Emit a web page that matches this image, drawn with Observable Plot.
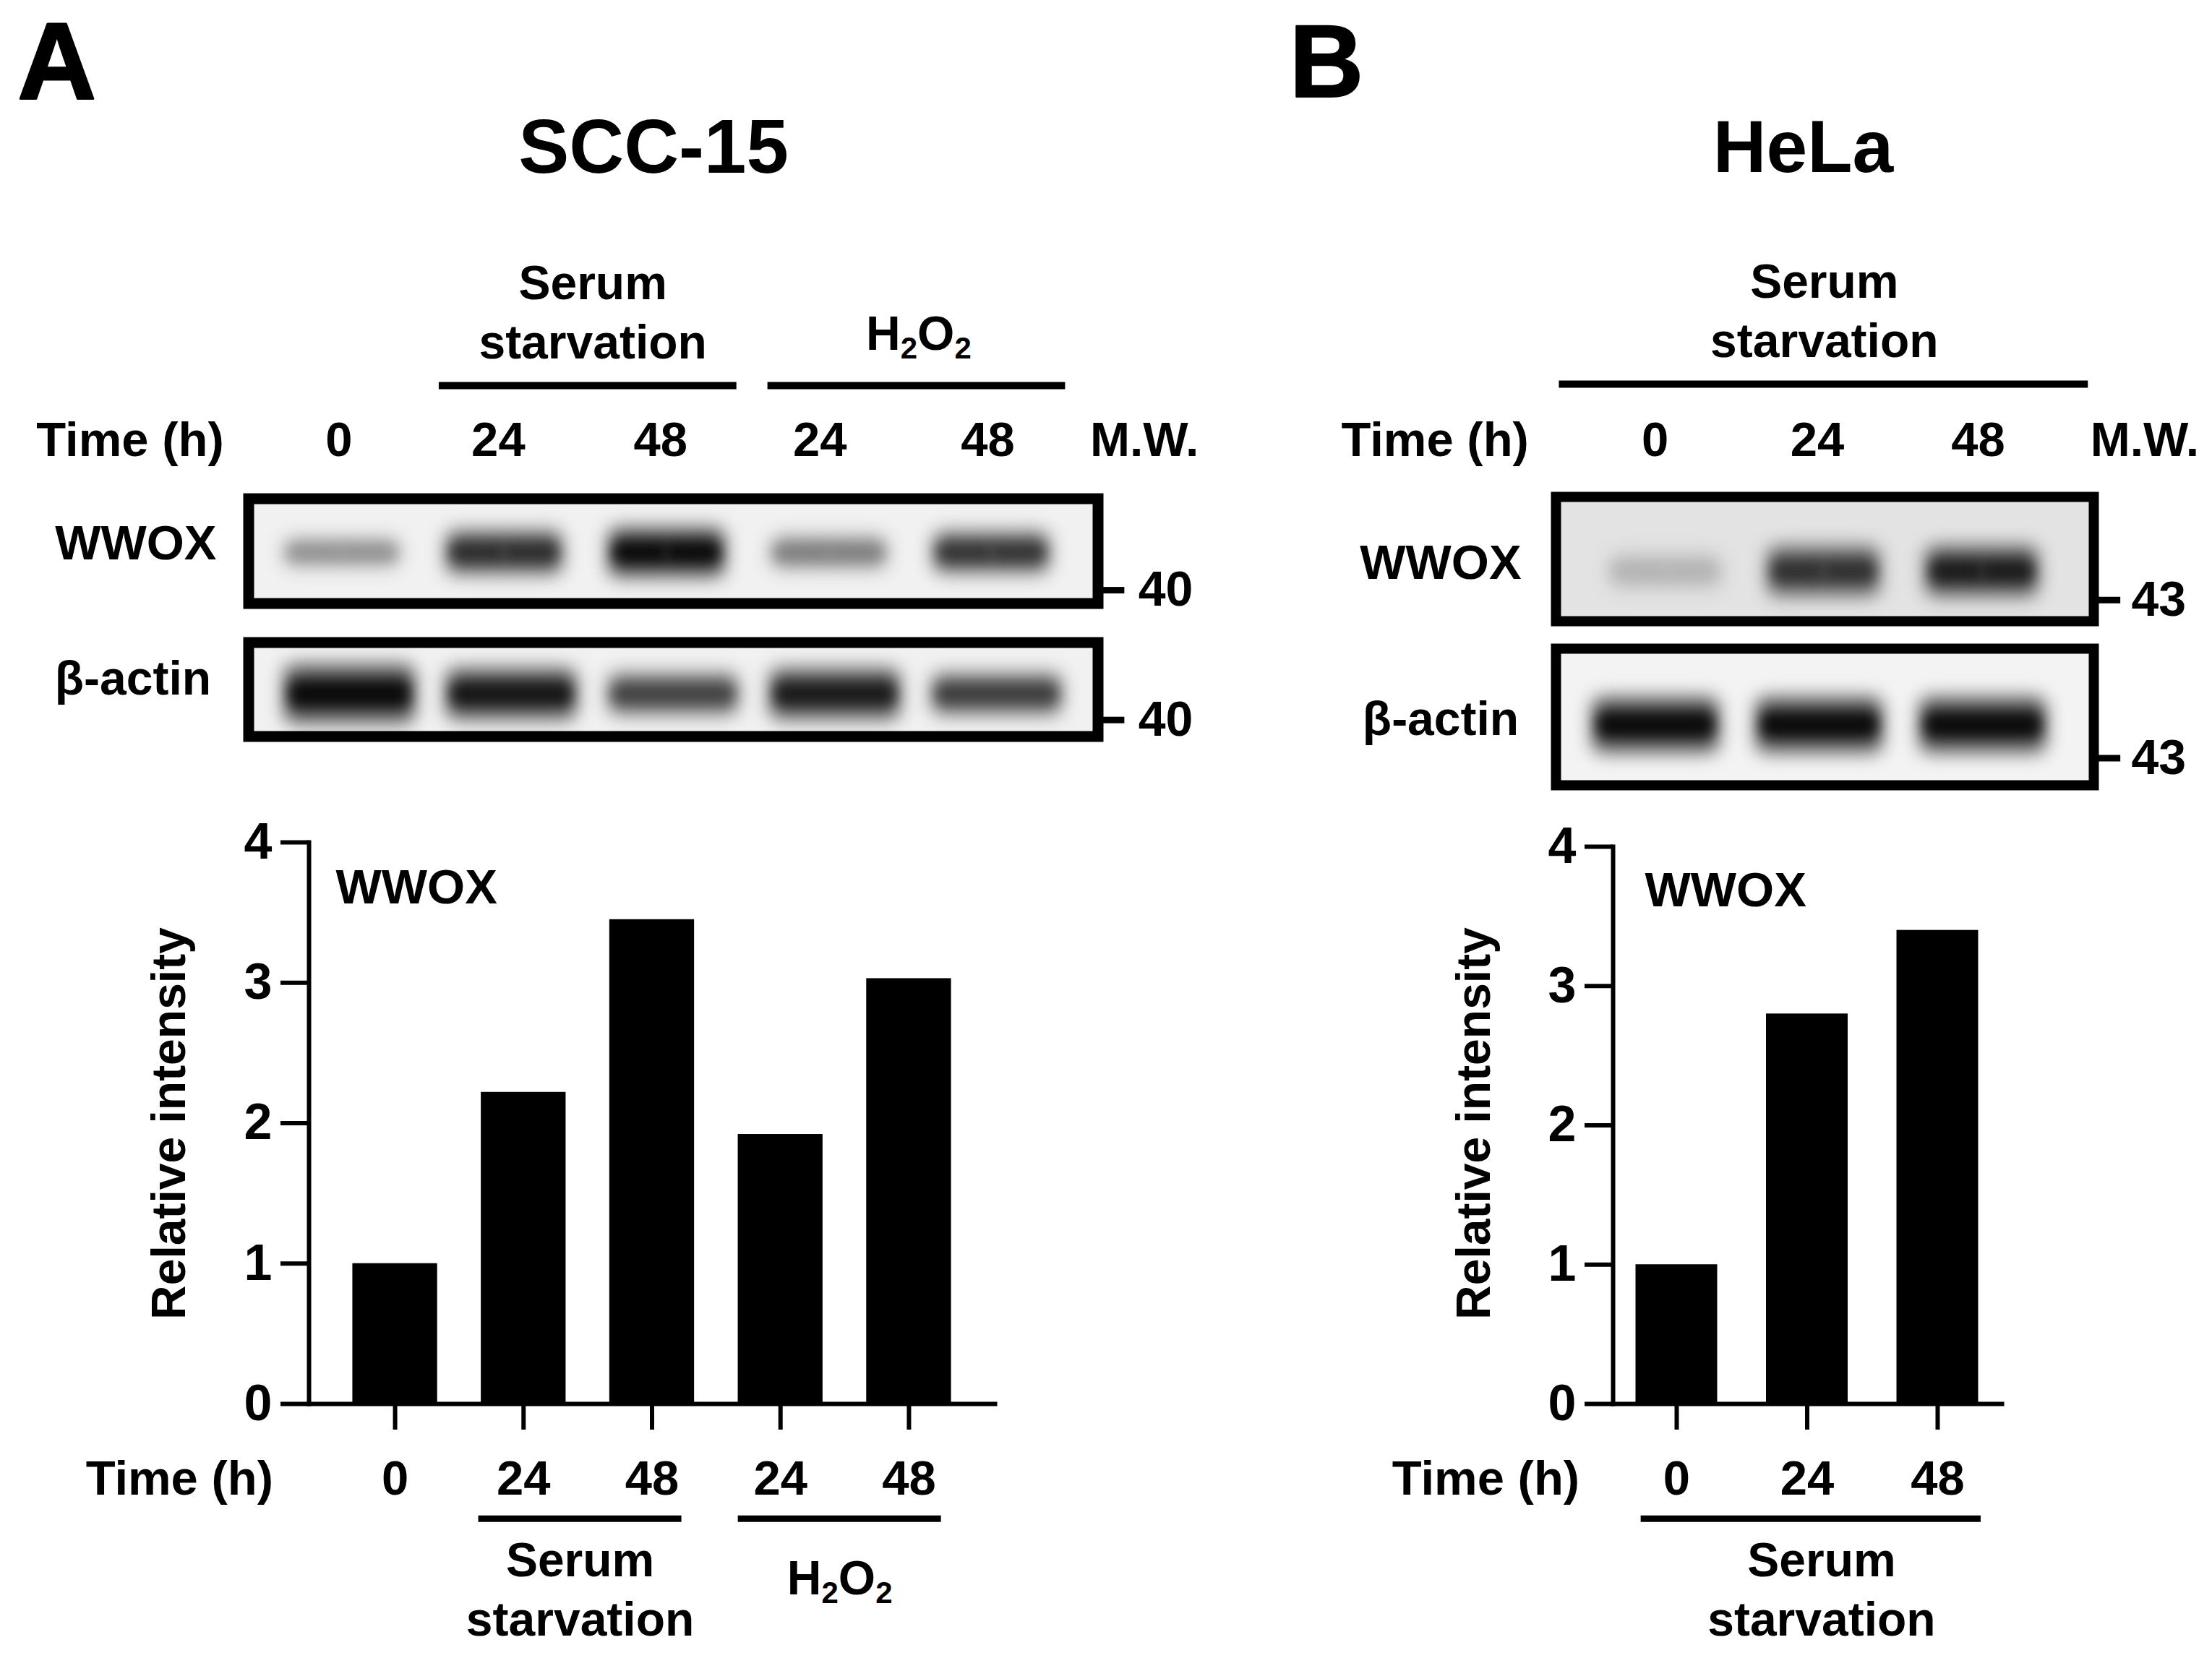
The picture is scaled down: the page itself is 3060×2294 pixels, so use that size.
<!DOCTYPE html>
<html>
<head>
<meta charset="utf-8">
<script src="https://cdn.jsdelivr.net/npm/d3@7"></script>
<script src="https://cdn.jsdelivr.net/npm/@observablehq/plot@0.6"></script>
<style>
html,body{margin:0;padding:0;background:#fff;}
#fig{position:relative;width:3060px;height:2294px;overflow:hidden;background:#fff;}
svg{max-width:none !important;}
</style>
</head>
<body>
<div id="fig"></div>
<script>
// ---------- data ----------
const lanesA = ["Control 0", "Serum 24", "Serum 48", "H2O2 24", "H2O2 48"];
const timesA = ["0", "24", "48", "24", "48"];
const intensityA = [1.0, 2.22, 3.45, 1.92, 3.03];

const lanesB = ["Control 0", "Serum 24", "Serum 48"];
const timesB = ["0", "24", "48"];
const intensityB = [1.0, 2.8, 3.4];

const yTicks = [0, 1, 2, 3, 4];

// blot band darkness (0-1) and half thickness (fraction of panel half-height)
const wwoxDarkA = [0.42, 0.85, 1.0, 0.5, 0.82];
const wwoxSpreadA = [0.24, 0.36, 0.4, 0.27, 0.34];
const actinDarkA = [1.0, 0.95, 0.76, 0.93, 0.78];
const actinSpreadA = [0.52, 0.46, 0.38, 0.46, 0.38];
const wwoxDarkB = [0.22, 0.82, 0.92];
const wwoxSpreadB = [0.24, 0.34, 0.34];
const actinDarkB = [1.0, 1.0, 1.0];
const actinSpreadB = [0.34, 0.34, 0.34];

// ---------- rendering ----------
const fig = document.getElementById("fig");
const FONT = "'Liberation Sans', Arial, sans-serif";
const place = (left, top) => ({position:"absolute", left:left+"px", top:top+"px", background:"transparent",
  fontFamily:FONT, fontWeight:"bold", overflow:"visible"});

function barChart({lanes, times, values, left, width, marginLeft, marginRight, marginTop, marginBottom, top, height, pInner, pOuter, insetRight}) {
  const data = lanes.map((lane, i) => ({lane, value: values[i]}));
  const label = new Map(lanes.map((l, i) => [l, times[i]]));
  return Plot.plot({
    width, height, marginLeft, marginRight, marginTop, marginBottom,
    style: place(left, top),
    x: {domain: lanes, paddingInner: pInner, paddingOuter: pOuter, insetRight, round: false, axis: null},
    y: {domain: [0, 4], axis: null},
    marks: [
      Plot.barY(data, {x: "lane", y: "value", fill: "#000"}),
      Plot.frame({anchor: "left", stroke: "#000", strokeWidth: 6}),
      Plot.frame({anchor: "bottom", stroke: "#000", strokeWidth: 6}),
      Plot.axisY({ticks: yTicks, tickFormat: "d", tickSize: 39, tickPadding: 12, strokeWidth: 6, fontSize: 70, label: null, fontWeight: "bold"}),
      Plot.axisX({tickSize: 36, tickPadding: 42, strokeWidth: 6, fontSize: 67, label: null, fontWeight: "bold",
        tickFormat: d => label.get(d)})
    ]
  });
}

function blot({lanes, dark, spread, left, top, width, height, stroke, center, bg, insetLeft, insetRight, bandInset, blur, lobes}) {
  const shade = d3.interpolateRgb(bg, "#000");
  const data = lanes.map((lane, i) => ({lane, dark: dark[i], spread: spread[i]}));
  const core = {y1: d => center - d.spread * 0.6, y2: d => center + d.spread * 0.6,
    x: "lane", fill: d => shade(d.dark * 0.95), rx: 14, clip: "frame", imageFilter: `blur(${blur}px)`};
  const bw = (width - stroke - insetLeft - insetRight) / lanes.length;
  const inner = bandInset + 8, gapInset = (bw - 2 * inner) * 0.47 + inner;
  return Plot.plot({
    width, height, margin: stroke / 2,
    style: place(left, top),
    x: {domain: lanes, insetLeft, insetRight, padding: 0, round: false, axis: null},
    y: {domain: [-1, 1], axis: null},
    marks: [
      Plot.frame({fill: bg, stroke: "none"}),
      Plot.barY(data, {x: "lane", y1: d => center - d.spread * 1.25, y2: d => center + d.spread * 1.25,
        fill: d => shade(d.dark * 0.58), insetLeft: bandInset, insetRight: bandInset, rx: 18,
        clip: "frame", imageFilter: `blur(${blur * 1.3}px)`}),
      ...(lobes
        ? [Plot.barY(data, {...core, insetLeft: inner, insetRight: gapInset}),
           Plot.barY(data, {...core, insetLeft: gapInset, insetRight: inner})]
        : [Plot.barY(data, {...core, insetLeft: inner, insetRight: inner})]),
      Plot.frame({stroke: "#000", strokeWidth: stroke})
    ]
  });
}

// Annotation layer: positions in reference units (1568 x 1175)
const txt = (t, x, y, size, o = {}) => Plot.text([t], {x: () => x, y: () => y, text: d => d, fontSize: size, fill: "#000",
  fontWeight: "bold", lineAnchor: "middle", textAnchor: "middle", ...o});
const line = (x1, x2, y, w = 9) => Plot.ruleY([0], {x1: () => x1, x2: () => x2, y: () => y, stroke: "#000", strokeWidth: w});

const annotations = Plot.plot({
  width: 3060, height: 2294, margin: 0,
  style: {...place(0, 0), pointerEvents: "none"},
  x: {domain: [0, 1568], range: [0, 3060], axis: null},
  y: {domain: [0, 1175], range: [0, 2294], axis: null},
  marks: [
    txt("A", 40, 45, 150, {stroke: "#000", strokeWidth: 3}), txt("B", 940, 45, 142, {stroke: "#000", strokeWidth: 2}),
    txt("SCC-15", 463, 105, 105), txt("HeLa", 1278, 105, 102),
    // panel A, top
    txt("Serum", 420, 201, 66), txt("starvation", 420, 243, 66),
    txt("H\u2082O\u2082", 651, 237, 66),
    line(311, 522, 273, 10), line(544, 755, 273, 10),
    txt("Time (h)", 92, 312, 67),
    ...timesA.map((t, i) => txt(t, [240, 353, 468, 581, 700][i], 312, 67)),
    txt("M.W.", 811, 312, 66),
    txt("WWOX", 96, 385, 67), txt("\u03b2-actin", 94, 481, 66),
    line(781, 797, 418), line(781, 797, 510),
    txt("40", 826, 418, 68), txt("40", 826, 510, 68),
    // panel B, top
    txt("Serum", 1293, 200, 66), txt("starvation", 1293, 242, 66),
    line(1105, 1480, 272, 10),
    txt("Time (h)", 1017, 312, 67),
    ...timesB.map((t, i) => txt(t, [1173, 1288, 1402][i], 312, 67)),
    txt("M.W.", 1520, 312, 66),
    txt("WWOX", 1021, 399, 67), txt("\u03b2-actin", 1021, 510, 66),
    line(1487, 1503, 425), line(1487, 1503, 537),
    txt("43", 1530, 425, 68), txt("43", 1530, 537, 68),
    // bar chart A
    txt("WWOX", 295, 629, 67),
    txt("Relative intensity", 120, 796, 66, {rotate: -90}),
    txt("Time (h)", 127, 1048, 67),
    line(339, 483, 1076), line(523, 667, 1076),
    txt("Serum", 411, 1106, 66), txt("starvation", 411, 1148, 66),
    txt("H\u2082O\u2082", 595, 1119, 66),
    // bar chart B
    txt("WWOX", 1223, 631, 67),
    txt("Relative intensity", 1045, 796, 66, {rotate: -90}),
    txt("Time (h)", 1053, 1048, 67),
    line(1163, 1404, 1076),
    txt("Serum", 1291, 1106, 66), txt("starvation", 1291, 1148, 66)
  ]
});

// Real subscripts for the H2O2 labels
annotations.querySelectorAll("text").forEach(el => {
  if (!el.textContent.includes("\u2082")) return;
  const NS = "http://www.w3.org/2000/svg";
  el.textContent = "";
  ["H", "2", "O", "2"].forEach((c, i) => {
    const t = document.createElementNS(NS, "tspan");
    t.textContent = c;
    if (i % 2) { t.setAttribute("font-size", "42"); t.setAttribute("dy", "12"); }
    else if (i) { t.setAttribute("dy", "-12"); }
    el.appendChild(t);
  });
});

fig.append(
  barChart({lanes: lanesA, times: timesA, values: intensityA, left: 0, top: 1100, width: 1530, height: 1194,
    marginLeft: 427, marginRight: 154, marginTop: 65, marginBottom: 352, pInner: 0.34, pOuter: 0.34, insetRight: 0}),
  barChart({lanes: lanesB, times: timesB, values: intensityB, left: 1530, top: 1100, width: 1530, height: 1194,
    marginLeft: 701, marginRight: 291, marginTop: 71, marginBottom: 352, pInner: 0.374, pOuter: 0.1745, insetRight: 1}),
  blot({lanes: lanesA, dark: wwoxDarkA, spread: wwoxSpreadA, left: 336, top: 682, width: 1190, height: 160, stroke: 15,
    center: -0.03, bg: "#f1f1f1", insetLeft: 17, insetRight: 35, bandInset: 30, blur: 9, lobes: true}),
  blot({lanes: lanesA, dark: actinDarkA, spread: actinSpreadA, left: 336, top: 881, width: 1190, height: 145, stroke: 15,
    center: -0.1, bg: "#f1f1f1", insetLeft: 28, insetRight: 28, bandInset: 20, blur: 9}),
  blot({lanes: lanesB, dark: wwoxDarkB, spread: wwoxSpreadB, left: 2145, top: 680, width: 758, height: 186, stroke: 14,
    center: -0.2, bg: "#e3e3e3", insetLeft: 42, insetRight: 45, bandInset: 30, blur: 9, lobes: true}),
  blot({lanes: lanesB, dark: actinDarkB, spread: actinSpreadB, left: 2145, top: 890, width: 758, height: 203, stroke: 14,
    center: -0.12, bg: "#f3f3f3", insetLeft: 25, insetRight: 40, bandInset: 24, blur: 9}),
  annotations
);
</script>
</body>
</html>
